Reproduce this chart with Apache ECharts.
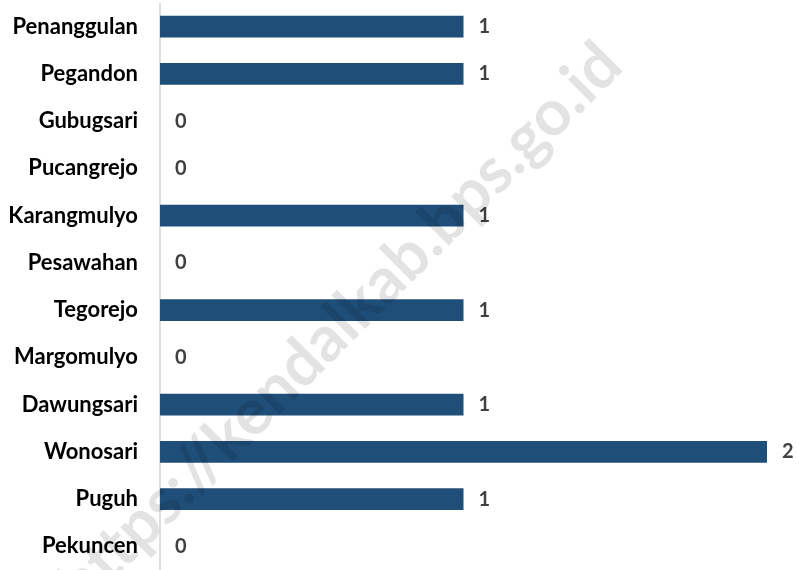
<!DOCTYPE html>
<html>
<head>
<meta charset="utf-8">
<script src="https://cdn.jsdelivr.net/npm/echarts@6/dist/echarts.min.js"></script>
<style>
html,body{margin:0;padding:0;background:#fff;}
#chart{width:799px;height:570px;}
</style>
</head>
<body>
<div id="chart"></div>
<script>
// desa / kelurahan, dari atas ke bawah
var desaList=['Penanggulan','Pegandon','Gubugsari','Pucangrejo','Karangmulyo','Pesawahan','Tegorejo','Margomulyo','Dawungsari','Wonosari','Puguh','Pekuncen'];
var jumlahList=[1,1,0,0,1,0,1,0,1,2,1,0];
var watermark='https://kendalkab.bps.go.id';

var chart=echarts.init(document.getElementById('chart'));
chart.setOption({
    animation:false,
    grid:{left:160,right:32,top:3,height:570},
    xAxis:{
        type:'value',
        min:0,
        max:2,
        show:false
    },
    yAxis:{
        type:'category',
        inverse:true,
        data:desaList,
        axisLine:{show:true,lineStyle:{color:'#d4d4d4',width:1.5}},
        axisTick:{show:false},
        axisLabel:{
            margin:22,
            color:'#000',
            fontFamily:'Lato',
            fontWeight:'bold',
            fontSize:22
        }
    },
    series:[{
        type:'bar',
        data:jumlahList,
        barWidth:'46%',
        itemStyle:{color:'#1f4e79'},
        label:{
            show:true,
            position:'right',
            distance:15,
            color:'#404040',
            fontFamily:'Lato',
            fontWeight:'bold',
            fontSize:20
        }
    }],
    graphic:[{
        type:'text',
        x:340,
        y:325,
        rotation:Math.PI/4,
        z:100,
        silent:true,
        style:{
            text:watermark,
            fontFamily:'Lato',
            fontWeight:'bold',
            fontSize:64,
            fill:'rgba(0,0,0,0.11)',
            align:'center',
            verticalAlign:'middle'
        }
    }]
});
</script>
</body>
</html>
